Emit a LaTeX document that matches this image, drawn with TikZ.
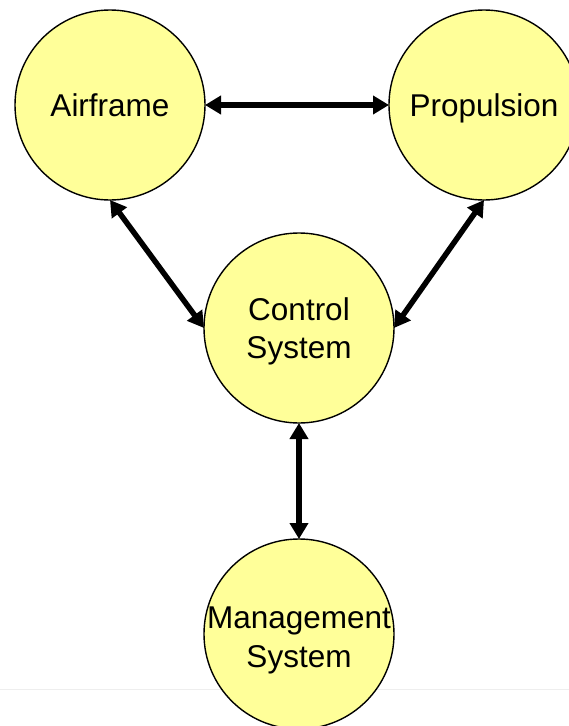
\documentclass[tikz,border=0pt]{standalone}
\usepackage{fontspec}
\setmainfont{Liberation Sans}
\usetikzlibrary{arrows.meta}
\definecolor{sysfill}{RGB}{255,255,153}
\definecolor{rulegray}{RGB}{238,238,238}
\tikzset{
  sys/.style={circle, draw=black, line width=1.4pt, fill=sysfill,
              minimum size=190pt, inner sep=0pt, outer sep=0pt},
  txt/.style={align=center, inner sep=0pt, text depth=0pt,
              font=\fontsize{31.5}{38.5}\selectfont},
  link/.style={line width=5.5pt, draw=black,
               {Triangle[length=16pt,width=18pt]}-{Triangle[length=16pt,width=18pt]}}
}
\begin{document}
\begin{tikzpicture}[x=1pt, y=-1pt]
  \useasboundingbox (0,0) rectangle (569,726);
  \clip (0,0) rectangle (569,726);
  \fill[white] (0,0) rectangle (569,726);

  % faint page rule behind the lower circle
  \coordinate (ruleL) at (0,689);
  \coordinate (ruleR) at (569,689);
  \draw[rulegray, line width=1pt] (ruleL) -- (ruleR);

  % subsystems
  \node[sys, label={[txt]center:Airframe}]   (af) at (110,105) {};
  \node[sys, label={[txt]center:Propulsion}] (pr) at (484,105) {};
  \node[sys, label={[txt]center:{Control\\System}}]    (cs) at (299,328) {};
  \node[sys, label={[txt, yshift=-3pt]center:{Management\\System}}] (ms) at (299,634) {};

  % two-way interactions
  \draw[link] (af.east)  -- (pr.west);
  \draw[link] (af.south) -- (cs.west);
  \draw[link] (pr.south) -- (cs.east);
  \draw[link] (cs.south) -- (ms.north);
\end{tikzpicture}
\end{document}
